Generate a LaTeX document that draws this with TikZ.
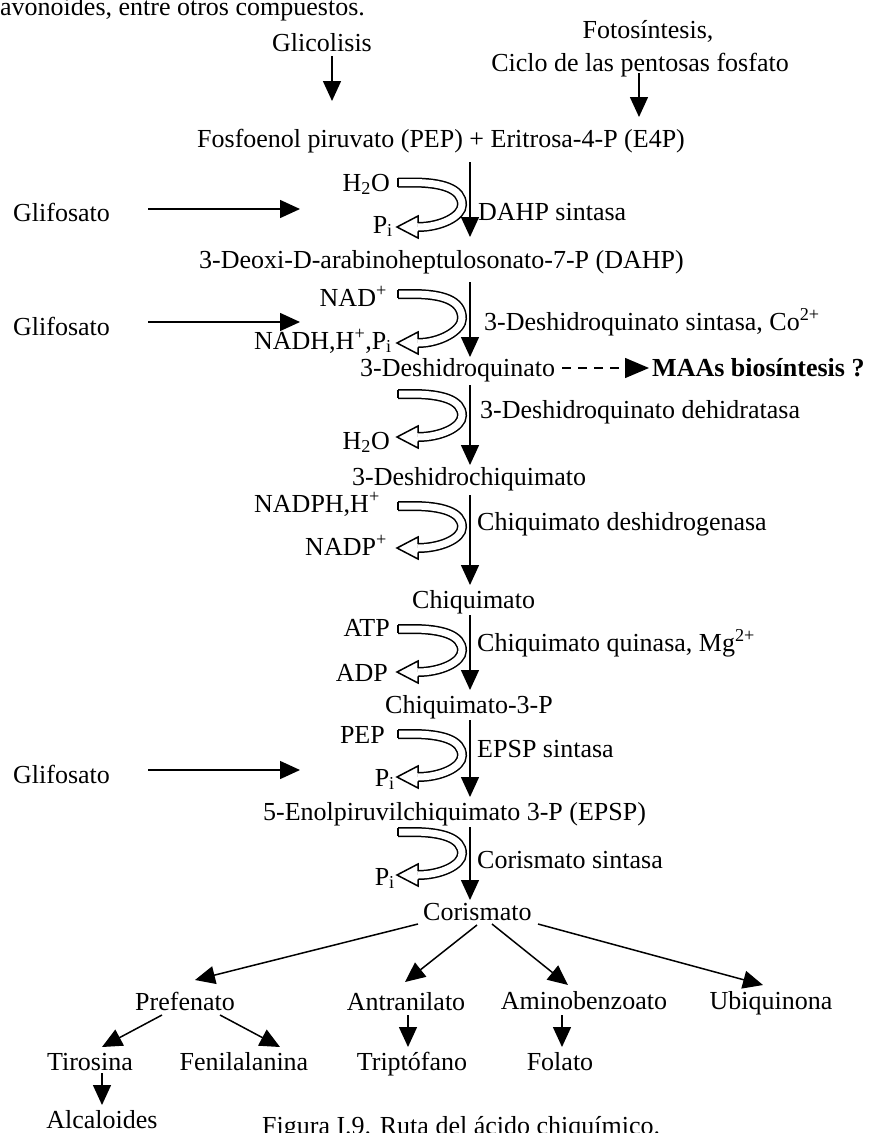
\documentclass[tikz,border=0pt]{standalone}
\usepackage{fontspec}
\setmainfont{Liberation Serif}
\usetikzlibrary{arrows.meta}
\newcommand\cofarrow[2]{%
  \pgfmathsetmacro\cofmid{(#1+#2)/2}%
  \draw[band] (398,#1) -- (412,#1) .. controls (442,#1) and (462,#1+6) .. (462,\cofmid) .. controls (462,\cofmid+12) and (440,#2) .. (418,#2);
  \draw[bandedge] (398,#1-4.25) -- (398,#1+4.25);
  \draw[bandedge] (418,#2-4.25) -- (418,#2-11) -- (397,#2) -- (418,#2+11) -- (418,#2+4.25);
}
\begin{document}
\begin{tikzpicture}[x=1pt,y=-1pt,
  every node/.style={font=\fontsize{26}{31}\selectfont, inner sep=0pt},
  tb/.style={anchor=base},
  tl/.style={anchor=base west},
  tr/.style={anchor=base east},
  tri/.style={-{Triangle[length=20pt,width=18pt]}, line width=1.5pt},
  band/.style={double, double distance=7pt, line width=1.5pt},
  bandedge/.style={line width=1.5pt, line join=miter},
  dasharrow/.style={-{Triangle[length=24pt,width=20pt]}, line width=1.4pt, dash pattern=on 9pt off 7pt}]
\useasboundingbox (0,0) rectangle (870,1133);
% ---------- top
\node[tl] (intro) at (0,15) {avonoides, entre otros compuestos.};
\node[tb] (glic) at (322,51) {Glicolisis};
\node[tb] (foto) at (648,38) {Fotosíntesis,};
\node[tb] (ciclo) at (640,71) {Ciclo de las pentosas fosfato};
\coordinate (g1) at (332,56); \coordinate (g2) at (332,101);
\coordinate (c1) at (639,73); \coordinate (c2) at (639,117);
\draw[tri] (g1) -- (g2);
\draw[tri] (c1) -- (c2);
% ---------- main column
\node[tl] (pep)  at (197,147) {Fosfoenol piruvato (PEP) + Eritrosa-4-P (E4P)};
\node[tl] (dahp) at (199,268) {3-Deoxi-D-arabinoheptulosonato-7-P (DAHP)};
\node[tl] (dhq)  at (360,376) {3-Deshidroquinato};
\node[tl] (maa)  at (652,376) {\bfseries MAAs biosíntesis ?};
\node[tl] (dhs)  at (352,485) {3-Deshidrochiquimato};
\node[tl] (chq)  at (412,608) {Chiquimato};
\node[tl] (c3p)  at (385,713) {Chiquimato-3-P};
\node[tl] (epsp) at (263,820) {5-Enolpiruvilchiquimato 3-P (EPSP)};
\node[tl] (cor)  at (423,920) {Corismato};
% main arrows
\foreach \n/\a/\b in {1/162/237, 2/282/357, 3/385/465, 4/495/585, 5/615/690, 6/720/797, 7/827/900}{
  \coordinate (m\n s) at (470,\a); \coordinate (m\n e) at (470,\b);
  \draw[tri] (m\n s) -- (m\n e);
}
\coordinate (d1) at (562,368); \coordinate (d2) at (649,368);
\draw[dasharrow] (d1) -- (d2);
% enzymes
\node[tl] (e1) at (478,220) {DAHP sintasa};
\node[tl] (e2) at (484,330) {3-Deshidroquinato sintasa, Co\textsuperscript{2+}};
\node[tl] (e3) at (480,418) {3-Deshidroquinato dehidratasa};
\node[tl] (e4) at (477,530) {Chiquimato deshidrogenasa};
\node[tl] (e5) at (477,651) {Chiquimato quinasa, Mg\textsuperscript{2+}};
\node[tl] (e6) at (477,757) {EPSP sintasa};
\node[tl] (e7) at (477,868) {Corismato sintasa};
% cofactors
\node[tr] (h2oa) at (390,191) {H\textsubscript{2}O};
\node[tr] (pia)  at (393,233) {P\textsubscript{i}};
\node[tr] (nad)  at (387,306) {NAD\textsuperscript{+}};
\node[tr] (nadh) at (392,349) {NADH,H\textsuperscript{+},P\textsubscript{i}};
\node[tr] (h2ob) at (390,449) {H\textsubscript{2}O};
\node[tr] (nadph) at (380,512) {NADPH,H\textsuperscript{+}};
\node[tr] (nadp) at (387,555) {NADP\textsuperscript{+}};
\node[tr] (atp)  at (390,636) {ATP};
\node[tr] (adp)  at (388,681) {ADP};
\node[tr] (pepb) at (385,743) {PEP};
\node[tr] (pib)  at (395,786) {P\textsubscript{i}};
\node[tr] (pic)  at (395,885) {P\textsubscript{i}};
% curved cofactor arrows
\cofarrow{182.5}{227}
\cofarrow{294}{343}
\cofarrow{394}{437}
\cofarrow{506}{548}
\cofarrow{629}{672}
\cofarrow{734}{777}
\cofarrow{832}{875}
% glifosato
\node[tl] (gl1) at (13,221) {Glifosato};
\node[tl] (gl2) at (13,335) {Glifosato};
\node[tl] (gl3) at (13,783) {Glifosato};
\foreach \n/\y in {1/209, 2/322, 3/770}{
  \coordinate (gs\n) at (148,\y); \coordinate (ge\n) at (300,\y);
  \draw[tri] (gs\n) -- (ge\n);
}
% ---------- tree
\node[tb] (pref) at (185,1010) {Prefenato};
\node[tb] (antr) at (406,1010) {Antranilato};
\node[tb] (amin) at (584,1009) {Aminobenzoato};
\node[tb] (ubi)  at (771,1009) {Ubiquinona};
\node[tb] (tiro) at (90,1070) {Tirosina};
\node[tb] (feni) at (244,1070) {Fenilalanina};
\node[tb] (trip) at (412,1070) {Triptófano};
\node[tb] (fola) at (560,1070) {Folato};
\node[tb] (alca) at (102,1128) {Alcaloides};
\node[tl] (cap)  at (262,1134) {Figura I.9. Ruta del ácido chiquímico.};
\coordinate (t1s) at (418,924); \coordinate (t1e) at (195,980);
\coordinate (t2s) at (477,925); \coordinate (t2e) at (405,982);
\coordinate (t3s) at (492,924); \coordinate (t3e) at (568,985);
\coordinate (t4s) at (538,924); \coordinate (t4e) at (763,985);
\coordinate (t5s) at (162,1015); \coordinate (t5e) at (102,1047);
\coordinate (t6s) at (220,1015); \coordinate (t6e) at (280,1047);
\coordinate (t7s) at (408,1015); \coordinate (t7e) at (408,1047);
\coordinate (t8s) at (562,1015); \coordinate (t8e) at (562,1047);
\coordinate (t9s) at (102,1073); \coordinate (t9e) at (102,1105);
\foreach \n in {1,...,9}{\draw[tri] (t\n s) -- (t\n e);}
\end{tikzpicture}
\end{document}
